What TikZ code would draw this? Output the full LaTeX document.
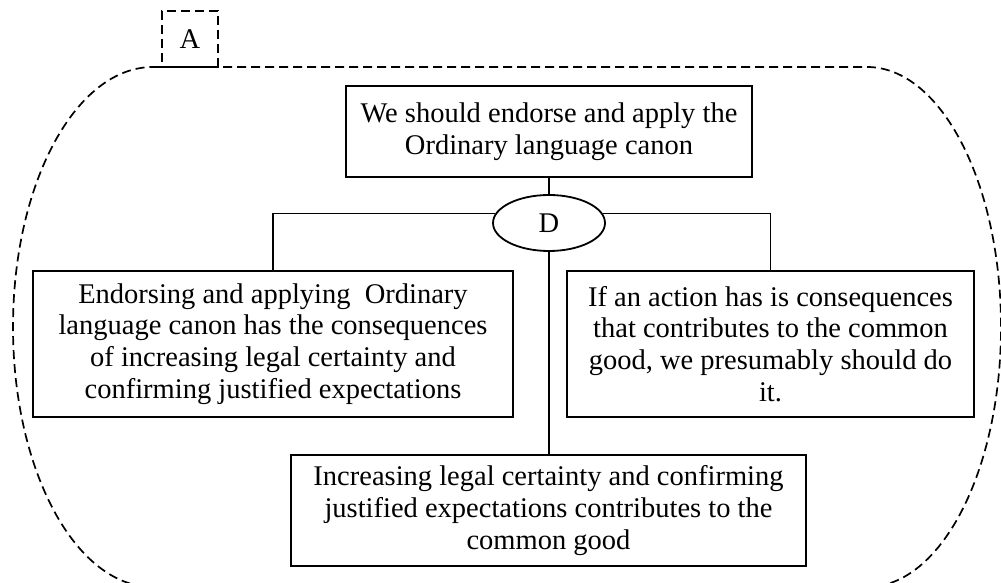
\documentclass[tikz,border=0pt]{standalone}
\usepackage{fontspec}
\setmainfont{Liberation Serif}
\usetikzlibrary{shapes.geometric}
\begin{document}
\begin{tikzpicture}[x=1pt,y=1pt,
  txt/.style={font=\fontsize{28.5}{31.7}\selectfont, align=center, inner sep=0pt},
  claim/.style={txt, draw, line width=1.8pt},
  tagbox/.style={txt, draw, line width=1.7pt, dash pattern=on 9pt off 5pt,
                 minimum width=56pt, minimum height=56pt},
  link/.style={line width=1.8pt},
  outline/.style={line width=1.7pt, dash pattern=on 9pt off 5pt}]
\useasboundingbox (0,0) rectangle (1001,583);

% dashed enclosure of the argument
\draw[outline] (153,516) -- (867,516)
  arc[start angle=90, end angle=-90, x radius=134, y radius=260]
  -- (153,-4)
  arc[start angle=270, end angle=90, x radius=140, y radius=260] -- cycle;

\node[tagbox] (A) at (190,544) {A};

% claims
\node[claim, minimum width=406pt, minimum height=91pt] (T) at (549,451.5)
  {We should endorse and apply the\\Ordinary language canon};
\node[txt, draw, ellipse, line width=1.8pt, minimum width=112pt, minimum height=56pt] (D) at (549,360) {D};
\node[claim, minimum width=480pt, minimum height=146pt] (L) at (273,239)
  {Endorsing and applying\ \ Ordinary\\language canon has the consequences\\of increasing legal certainty and\\confirming justified expectations};
\node[claim, minimum width=407pt, minimum height=146pt] (R) at (770.5,239)
  {If an action has is consequences\\that contributes to the common\\good, we presumably should do\\it.};
\node[claim, minimum width=515pt, minimum height=111pt] (B) at (548.5,72.5)
  {Increasing legal certainty and confirming\\justified expectations contributes to the\\common good};

% connectors
\draw[link] (T.south -| D.north) -- (D.north);
\draw[link] (D.170) -| (L.north);
\draw[link] (D.10) -| (R.north);
\draw[link] (D.south) -- (D.south |- B.north);
\end{tikzpicture}
\end{document}
